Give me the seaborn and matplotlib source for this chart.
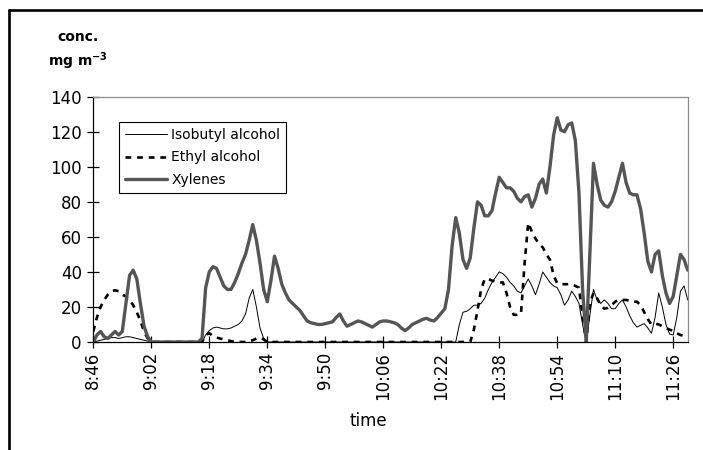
import numpy as np
import pandas as pd
import matplotlib
matplotlib.use("Agg")
import matplotlib.pyplot as plt
from matplotlib.lines import Line2D
import seaborn as sns

# ---------------- data (1-minute readings starting 8:46) ----------------
start_label = "8:46"
tick_labels = ["8:46", "9:02", "9:18", "9:34", "9:50", "10:06",
               "10:22", "10:38", "10:54", "11:10", "11:26"]
tick_step_min = 16

xylenes = ([0, 4, 6, 3, 2, 4, 6, 4, 6, 22, 38, 41, 36, 22, 9, 3, 0]
           + [0] * 13
           + [2, 31, 40, 43, 42, 37, 32, 30, 30, 34, 39, 45, 50, 58, 67, 58, 45, 30, 23]
           + [35, 49, 42, 33, 28, 24]
           + [22, 20, 18, 15, 12, 11, 10.5, 10, 10]
           + [10.5, 11, 11.5, 14, 16, 12, 9, 10, 11, 12, 11.5, 10.5]
           + [9.5, 8.5, 10, 11.5, 12, 12, 11.5, 11, 10, 8, 6.5, 8, 10, 11, 12, 13, 13.5, 12.5, 12, 14, 16.5]
           + [19, 30, 55, 71, 62, 47, 42, 48, 65, 80, 78, 72, 72, 75, 85, 94, 91, 88, 88, 86,
              82, 80, 83, 84, 77, 82, 90, 93, 85, 100, 118, 128, 121, 120, 124, 125, 115, 85, 30, 0,
              50, 102, 90, 81, 78, 77, 80, 86, 94, 102, 91, 85, 84, 84, 76, 62, 46, 40, 50, 52,
              38, 28, 22, 26, 38, 50, 47, 41])

ethyl = ([6, 14, 20, 24, 27, 29, 29.5, 29, 27, 26, 24, 21, 17, 12, 6, 2, 0]
         + [0] * 13
         + [0, 4, 5, 3.5, 2.5, 2, 1.5, 1, 0.5, 0, 0, 0, 0, 0.5, 1, 2, 2.5, 1.5, 0]
         + [0] * 55
         + [0, 7, 18, 30, 36, 36, 35, 34.5, 34, 34,
            28, 20, 15.5, 15.5, 16, 45, 68, 63, 59, 56,
            54, 50, 47, 38, 33.5, 33, 33, 33, 33, 32,
            31, 15, 0, 22, 28, 25, 21, 19, 19.5, 21,
            23, 24, 24, 24, 23.5, 23, 23, 21, 17, 13,
            10, 10.5, 10, 9, 8, 7, 6.5, 5, 4, 3.5,
            3.5])

isobutyl = ([0, 0.5, 1, 1.5, 2, 2.5, 2.5, 2, 2.5, 3, 3, 2.5, 2, 1.5, 1, 0.5, 0]
            + [0] * 13
            + [0, 4, 6.5, 8, 8.5, 8, 7.5, 7.5, 8, 9, 10, 12, 16, 25, 30, 20, 8, 2, 0]
            + [0] * 51
            + [0, 10, 17, 17.5, 19, 21, 21, 22, 25, 30,
               34, 37, 40, 39, 37, 34, 32, 29, 28, 32,
               36, 32, 27, 33, 40, 37, 34, 32, 31, 27,
               21, 24, 29, 26, 22, 10, 0, 15, 30, 24,
               22, 24, 22, 19, 19, 22, 24, 20, 15, 11,
               8.5, 9.5, 10.5, 8, 5, 14, 28, 20, 10, 4.5,
               4, 14, 29, 32, 24])

series_names = ["Isobutyl alcohol", "Ethyl alcohol", "Xylenes"]

n = len(xylenes)
assert len(ethyl) == n and len(isobutyl) == n
minutes = np.arange(n)

df = pd.DataFrame({
    "minute": np.tile(minutes, 3),
    "conc": np.concatenate([isobutyl, ethyl, xylenes]),
    "series": np.repeat(series_names, n),
})

# ---------------- styling ----------------
sns.set_theme(style="white")
plt.rcParams["font.family"] = ["DejaVu Sans"]
plt.rcParams["mathtext.fontset"] = "dejavusans"
plt.rcParams["text.color"] = "black"
plt.rcParams["axes.labelcolor"] = "black"
plt.rcParams["xtick.color"] = "black"
plt.rcParams["ytick.color"] = "black"

fig = plt.figure(figsize=(7.03, 4.50), dpi=100)
ax = fig.add_axes([93.3 / 703, 1 - 342 / 450, (687.7 - 93.3) / 703, (342 - 96.7) / 450])

styles = {
    "Isobutyl alcohol": dict(color="black", linewidth=0.7, linestyle="-"),
    "Ethyl alcohol": dict(color="black", linewidth=1.9, linestyle=(0, (2.2, 2.2))),
    "Xylenes": dict(color="#555555", linewidth=2.4, linestyle="-"),
}
for name in series_names:
    sub = df[df["series"] == name]
    sns.lineplot(data=sub, x="minute", y="conc", ax=ax, legend=False,
                 solid_joinstyle="round", solid_capstyle="round", **styles[name])

ax.set_xlim(0, n - 1)
ax.set_ylim(0, 140)
ax.set_yticks(np.arange(0, 141, 20))
ax.set_xticks(np.arange(len(tick_labels)) * tick_step_min)
ax.set_xticklabels(tick_labels, rotation=90)
ax.set_xlabel("")
ax.set_ylabel("")

ax.tick_params(axis="both", which="major", direction="inout", length=8.5, width=0.9,
               color="black", labelsize=12, labelcolor="black", bottom=True, left=True)
ax.tick_params(axis="y", pad=4)
ax.tick_params(axis="x", pad=3)

for side in ["left", "bottom"]:
    ax.spines[side].set_color("black")
    ax.spines[side].set_linewidth(0.9)
for side in ["top", "right"]:
    ax.spines[side].set_color("#8c8c8c")
    ax.spines[side].set_linewidth(0.9)
ax.grid(False)

handles = [Line2D([], [], **styles[name]) for name in series_names]
leg = ax.legend(handles, series_names, loc="upper left",
                bbox_to_anchor=((119 - 93.3) / 594.4, (342 - 122) / 245.3),
                borderaxespad=0, fontsize=10, frameon=True, fancybox=False,
                edgecolor="black", framealpha=1, handlelength=3.0,
                handletextpad=0.35, labelspacing=0.62, borderpad=0.42)
leg.get_frame().set_linewidth(0.8)
for t in leg.get_texts():
    t.set_color("black")

fig.text(78 / 703, 1 - 37 / 450, "conc.", ha="center", va="center",
         fontsize=10, fontweight="bold", color="black")
fig.text(78 / 703, 1 - 61 / 450, r"mg m$^{\mathbf{-3}}$", ha="center", va="center",
         fontsize=10, fontweight="bold", color="black")
fig.text(368 / 703, 1 - 421 / 450, "time", ha="center", va="center", fontsize=12,
         color="black")

# outer border (top and left edges of the chart frame)
fig.add_artist(Line2D([9 / 703, 1.0], [1 - 10 / 450, 1 - 10 / 450],
                      transform=fig.transFigure, color="black", linewidth=1.9))
fig.add_artist(Line2D([9 / 703, 9 / 703], [1 - 10 / 450, 0.0],
                      transform=fig.transFigure, color="black", linewidth=1.9))

fig.savefig("out.png", dpi=100, facecolor="white")
